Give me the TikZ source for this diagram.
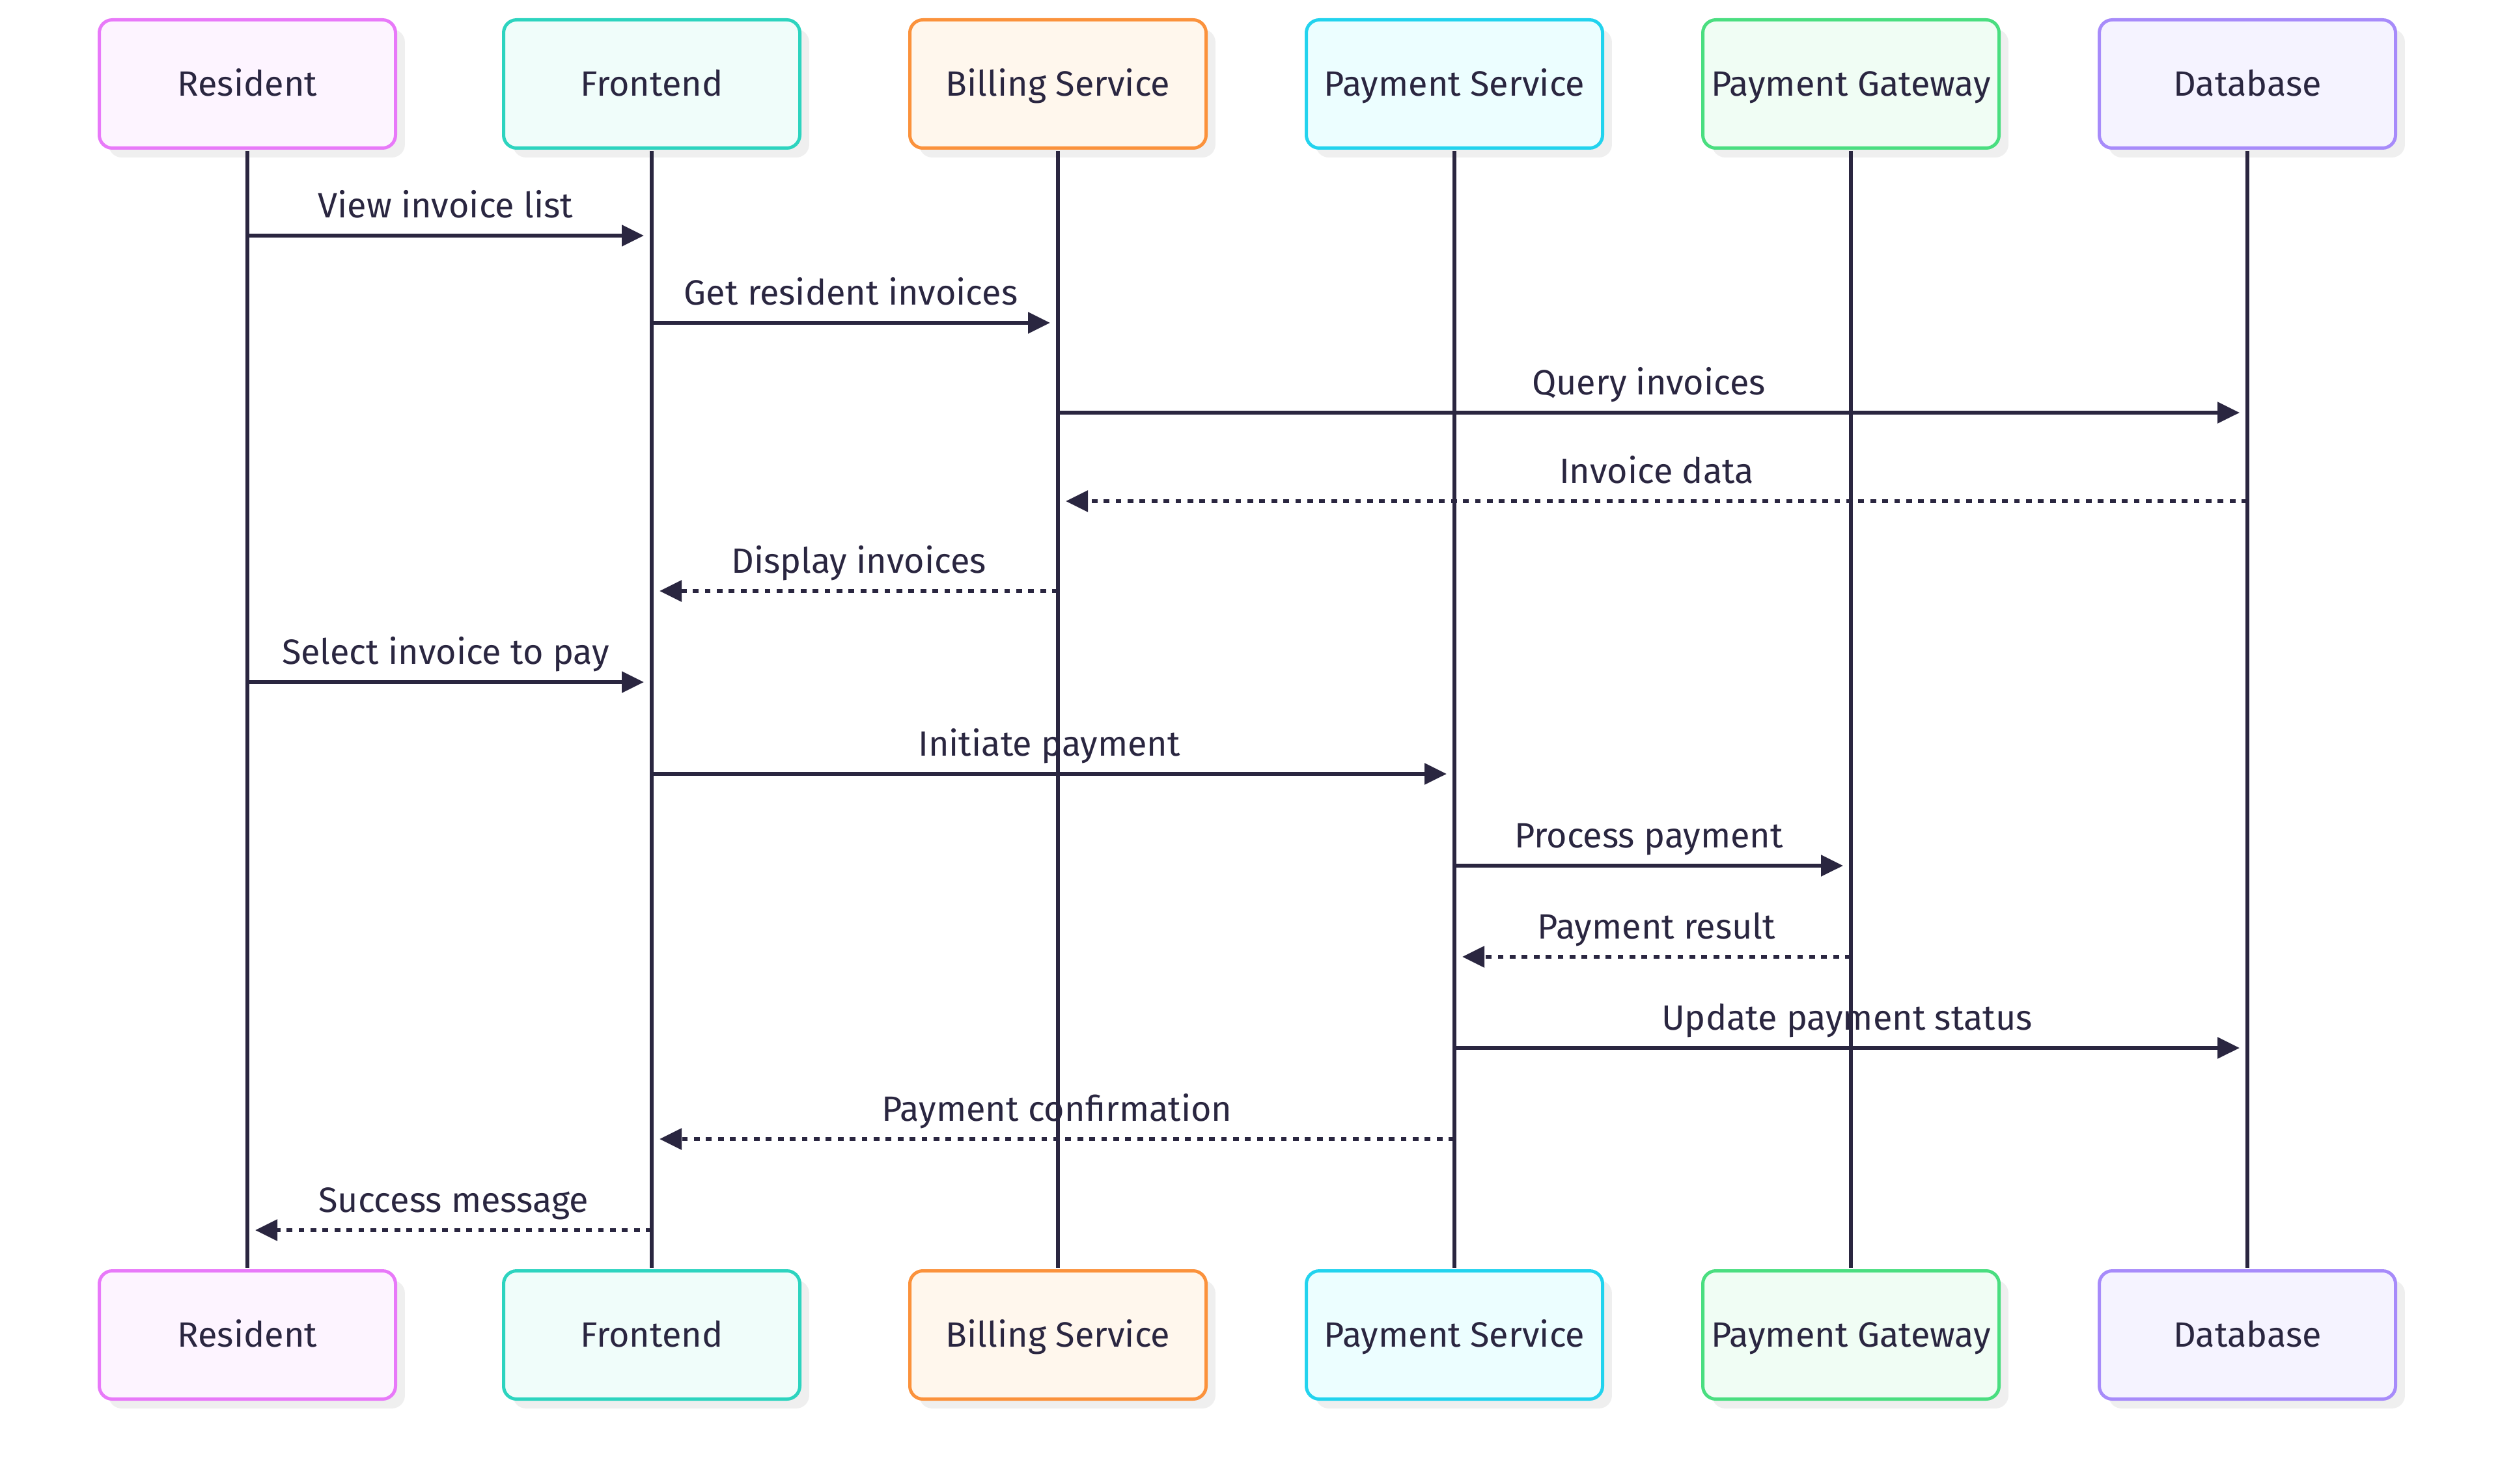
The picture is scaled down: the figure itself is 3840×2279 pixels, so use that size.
\documentclass[tikz,border=0pt]{standalone}
\usepackage{fontspec}
\setmainfont{Fira Sans}
\usetikzlibrary{arrows.meta,calc,shadows}
\definecolor{ink}{HTML}{2A2640}
\definecolor{shadowc}{HTML}{EFEFEF}
\definecolor{resS}{HTML}{E879F9}\definecolor{resF}{HTML}{FDF4FF}
\definecolor{froS}{HTML}{2DD4BF}\definecolor{froF}{HTML}{F0FDFA}
\definecolor{bilS}{HTML}{FB923C}\definecolor{bilF}{HTML}{FFF7ED}
\definecolor{payS}{HTML}{22D3EE}\definecolor{payF}{HTML}{ECFEFF}
\definecolor{gatS}{HTML}{4ADE80}\definecolor{gatF}{HTML}{F0FDF4}
\definecolor{datS}{HTML}{A78BFA}\definecolor{datF}{HTML}{F5F3FF}
\begin{document}
\begin{tikzpicture}[x=0.25pt,y=-0.25pt,
  labelfont/.style={font=\fontsize{13.5pt}{16pt}\selectfont},
  actor/.style={rectangle, rounded corners=5pt, line width=1.25pt,
    minimum width=113.75pt, minimum height=49.25pt, inner sep=0pt,
    text height=9.3pt, text depth=0pt, text=ink, labelfont,
    drop shadow={shadow xshift=3.6pt, shadow yshift=-3.6pt, fill=shadowc, opacity=1}},
  life/.style={draw=ink, line width=1.5pt},
  msg/.style={draw=ink, line width=1.375pt, -{Triangle[length=8.5pt,width=8pt]}},
  reply/.style={msg, dash pattern=on 2.2pt off 2.4pt},
  lbl/.style={anchor=base, yshift=6.9pt, text=ink, labelfont, inner sep=0pt}
]
\fill[white] (0,0) rectangle (3840,2279);
\useasboundingbox (0,0) rectangle (3840,2279);

% actors (top)
\node[actor, draw=resS, fill=resF] (resT) at (380,129) {Resident};
\node[actor, draw=froS, fill=froF] (froT) at (1001,129) {Frontend};
\node[actor, draw=bilS, fill=bilF] (bilT) at (1625,129) {Billing Service};
\node[actor, draw=payS, fill=payF] (payT) at (2234,129) {Payment Service};
\node[actor, draw=gatS, fill=gatF] (gatT) at (2843,129) {Payment Gateway};
\node[actor, draw=datS, fill=datF] (datT) at (3452,129) {Database};
% actors (bottom)
\node[actor, draw=resS, fill=resF] (resB) at (380,2051) {Resident};
\node[actor, draw=froS, fill=froF] (froB) at (1001,2051) {Frontend};
\node[actor, draw=bilS, fill=bilF] (bilB) at (1625,2051) {Billing Service};
\node[actor, draw=payS, fill=payF] (payB) at (2234,2051) {Payment Service};
\node[actor, draw=gatS, fill=gatF] (gatB) at (2843,2051) {Payment Gateway};
\node[actor, draw=datS, fill=datF] (datB) at (3452,2051) {Database};

% lifelines
\foreach \a in {res,fro,bil,pay,gat,dat}
  \draw[life] ([yshift=-0.6pt]\a T.south) -- ([yshift=0.6pt]\a B.north);

% message rows
\coordinate (y1) at (0,362);
\coordinate (y2) at (0,496);
\coordinate (y3) at (0,634);
\coordinate (y4) at (0,770);
\coordinate (y5) at (0,908);
\coordinate (y6) at (0,1048);
\coordinate (y7) at (0,1189);
\coordinate (y8) at (0,1330);
\coordinate (y9) at (0,1470);
\coordinate (y10) at (0,1610);
\coordinate (y11) at (0,1750);
\coordinate (y12) at (0,1890);

\draw[msg] (resT.south |- y1) -- ($(froT.south |- y1)+(-12,0)$) node[lbl,midway] {View invoice list};
\draw[msg] (froT.south |- y2) -- ($(bilT.south |- y2)+(-12,0)$) node[lbl,midway] {Get resident invoices};
\draw[msg] (bilT.south |- y3) -- ($(datT.south |- y3)+(-12,0)$) node[lbl,midway] {Query invoices};
\draw[reply] (datT.south |- y4) -- ($(bilT.south |- y4)+(12,0)$) node[lbl,midway] {Invoice data};
\draw[reply] (bilT.south |- y5) -- ($(froT.south |- y5)+(12,0)$) node[lbl,midway] {Display invoices};
\draw[msg] (resT.south |- y6) -- ($(froT.south |- y6)+(-12,0)$) node[lbl,midway] {Select invoice to pay};
\draw[msg] (froT.south |- y7) -- ($(payT.south |- y7)+(-12,0)$) node[lbl,midway] {Initiate payment};
\draw[msg] (payT.south |- y8) -- ($(gatT.south |- y8)+(-12,0)$) node[lbl,midway] {Process payment};
\draw[reply] (gatT.south |- y9) -- ($(payT.south |- y9)+(12,0)$) node[lbl,midway] {Payment result};
\draw[msg] (payT.south |- y10) -- ($(datT.south |- y10)+(-12,0)$) node[lbl,midway] {Update payment status};
\draw[reply] (payT.south |- y11) -- ($(froT.south |- y11)+(12,0)$) node[lbl,midway] {Payment confirmation};
\draw[reply] (froT.south |- y12) -- ($(resT.south |- y12)+(12,0)$) node[lbl,midway] {Success message};
\end{tikzpicture}
\end{document}
